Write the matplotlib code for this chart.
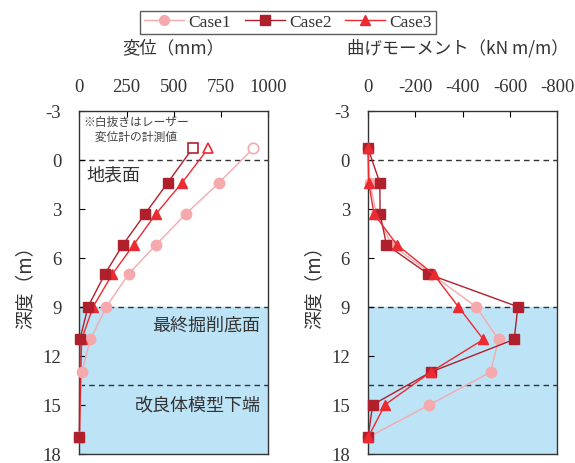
import matplotlib
matplotlib.use("Agg")
import matplotlib.pyplot as plt
from matplotlib.lines import Line2D

plt.rcParams['font.family'] = ['Liberation Serif', 'Noto Sans CJK JP']
plt.rcParams['axes.unicode_minus'] = False
JP = ['Noto Sans CJK JP']

# Depths of measurement points (m)
depth = [-0.7, 1.4, 3.3, 5.2, 7.0, 9.0, 11.0, 13.0, 15.0, 17.0]

# Displacement (mm); first value is the laser gauge reading (open marker)
disp_depth1 = [-0.7, 1.4, 3.3, 5.2, 7.0, 9.0, 11.0, 13.0, 17.0]
disp_case1 = [922, 741, 566, 407, 261, 143, 59, 12, 0]
disp_depth23 = [-0.7, 1.4, 3.3, 5.2, 7.0, 9.0, 11.0, 17.0]
disp_case2 = [600, 469, 349, 231, 135, 46, 3, 0]
disp_case3 = [683, 545, 407, 288, 175, 73, 12, 0]

# Bending moment (kN m/m)
mom_case1 = [0, -8, -35, -100, -268, -457, -552, -519, -260, 0]
mom_case2 = [0, -50, -51, -78, -255, -634, -618, -265, -20, 0]
mom_case3 = [0, -3, -25, -122, -277, -382, -488, -265, -72, 0]

disp_ticks = [0, 250, 500, 750, 1000]
mom_ticks = [0, -200, -400, -600, -800]
depth_ticks = [-3, 0, 3, 6, 9, 12, 15, 18]

c1 = '#F5A9AC'
c2 = '#B0202C'
c3 = '#EC2A32'
shade = '#BDE3F6'
ink = '#333333'

fig = plt.figure(figsize=(5.75, 4.64), dpi=100)
ax1 = fig.add_axes([0.138, 0.020, 0.328, 0.739])
ax2 = fig.add_axes([0.640, 0.020, 0.329, 0.739])

def setup(ax, xlim, xticks):
    ax.set_ylim(18, -3)
    ax.set_xlim(*xlim)
    ax.set_yticks(depth_ticks)
    ax.set_xticks(xticks)
    ax.xaxis.tick_top()
    ax.tick_params(axis='x', direction='in', length=4, labelsize=13.5, pad=11.5,
                   top=True, bottom=False, labelcolor=ink)
    ax.tick_params(axis='y', direction='in', length=4, labelsize=13.5, pad=13,
                   labelcolor=ink)
    for s in ax.spines.values():
        s.set_linewidth(1.0)
        s.set_color(ink)
    ax.axhspan(9.0, 18, color=shade, zorder=0)
    for yv in (0, 9.0, 13.8):
        ax.axhline(yv, color=ink, ls=(0, (4, 3)), lw=1.0, zorder=1)
    ax.set_ylabel('深度（m）', family=JP, fontsize=13.5, color=ink, labelpad=5)

setup(ax1, (0, 1000), disp_ticks)
setup(ax2, (0, -800), mom_ticks)
# Panel titles placed in figure coordinates above each axes
fig.text(0.302, 1 - 48 / 464, '変位（mm）', family=JP, fontsize=12.5, color=ink,
         ha='center', va='center')
fig.text(0.797, 1 - 48 / 464, '曲げモーメント（kN m/m）', family=JP, fontsize=12.5,
         color=ink, ha='center', va='center')

ms = 7.5
# Displacement profiles: open marker at the top for laser reading
for d, x, col, mk in [(disp_depth1, disp_case1, c1, 'o'),
                      (disp_depth23, disp_case3, c3, '^'),
                      (disp_depth23, disp_case2, c2, 's')]:
    ax1.plot(x, d, color=col, lw=1.0, zorder=3, clip_on=False)
    ax1.plot(x[1:], d[1:], ls='none', marker=mk, ms=ms, color=col, zorder=4, clip_on=False)
    ax1.plot(x[:1], d[:1], ls='none', marker=mk, ms=ms, mfc='white', mec=col, mew=1.2, zorder=4, clip_on=False)

for x, col, mk in [(mom_case1, c1, 'o'), (mom_case2, c2, 's'), (mom_case3, c3, '^')]:
    ax2.plot(x, depth, color=col, lw=1.0, marker=mk, ms=ms, zorder=3, clip_on=False)

ax1.text(22, -1.9, '※白抜きはレーザー\n　変位計の計測値', family=JP, fontsize=8.5,
         color='#444444', va='center', ha='left', linespacing=1.25)
ax1.text(40, 0.9, '地表面', family=JP, fontsize=13, color=ink, va='center')
ax1.text(960, 10.1, '最終掘削底面', family=JP, fontsize=13, color=ink, va='center', ha='right')
ax1.text(960, 15.0, '改良体模型下端', family=JP, fontsize=13, color=ink, va='center', ha='right')

handles = [Line2D([], [], color=c1, marker='o', ms=7, lw=1.0),
           Line2D([], [], color=c2, marker='s', ms=7, lw=1.0),
           Line2D([], [], color=c3, marker='^', ms=7, lw=1.0)]
leg = fig.legend(handles, ['Case1', 'Case2', 'Case3'], loc='center',
                 bbox_to_anchor=(0.501, 0.950), ncol=3, fontsize=12.5,
                 frameon=True, fancybox=False, edgecolor=ink,
                 handlelength=2.3, columnspacing=0.8, handletextpad=0.25,
                 borderpad=0.2)
leg.get_frame().set_linewidth(1.0)
for t in leg.get_texts():
    t.set_color(ink)

fig.savefig('out.png', dpi=100)
